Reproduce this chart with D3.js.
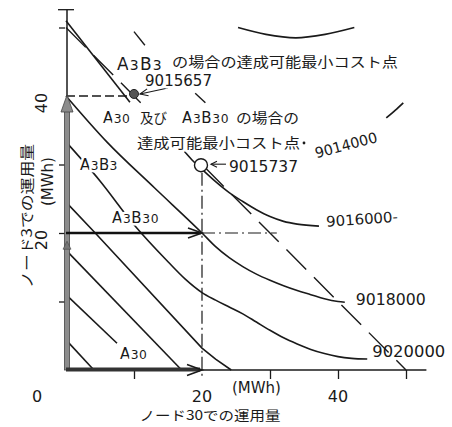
<!DOCTYPE html>
<html>
<head>
<meta charset="utf-8">
<script src="https://cdn.jsdelivr.net/npm/d3@7"></script>
<style>
  body { margin: 0; background: #fff; }
</style>
</head>
<body>
<div id="chart"></div>
<script>
// ---- data (MWh at node 30 = x, MWh at node 3 = y) ----
var xTicks = [10, 30, 40, 50];
var yTicks = [10, 20, 30, 50];
var xTickValues = [20, 40];
var xTickLabels = ["20", "40"];
var yTickValues = [20, 40];
var yTickLabels = ["20", "40"];

// cost contours (curved part right of x = 20)
var contourLabels = ["9016000", "9018000", "9020000"];
var c9016000 = [[17, 32.4], [18.5, 30.7], [20, 29.3], [22, 27.5], [24, 25.9], [26, 24.6], [28, 23.4], [30, 22.4], [32, 21.7], [34, 21.3], [37.2, 21]];
var c9018000 = [[0, 40], [6, 33.3], [13, 26.6], [20, 20], [22, 18], [24, 16.4], [26, 15.1], [28, 14], [30, 13.1], [32, 12.3], [34, 11.6], [36, 11], [38, 10.4], [40, 10], [41, 9.9]];
var c9020000 = [[0, 33.3], [5, 27.6], [10, 21.2], [15, 15.8], [17.5, 13.3], [20, 11.3], [22, 10.2], [24, 9.2], [26, 8.2], [28, 7], [30, 5.8], [32, 4.7], [34, 3.8], [36, 3], [38, 2.4], [40, 1.95], [42, 1.7], [44.3, 1.6]];
// 9014000 pieces in the upper right
var c9014000Top = [[25.3, 50], [29.4, 49], [33.8, 48.5], [38.1, 49], [42.4, 50]];
var c9014000Right = [[47.1, 36.8], [48.4, 37.9], [49.6, 39]];

// straight iso-cost lines in the lower left
var isoLines = [
  [[0, 4.4], [4.1, 0]],
  [[0, 11], [7.5, 3.9]],
  [[0, 17.5], [17, 0]],
  [[0, 24.5], [4.3, 20], [20, 3.2], [22, 1.6], [24.3, 0]]
];
// A3B3 case lines
var a3b3Line = [[0, 51], [9.4, 39.1]];
var a3b3Dashes = [[[10, 49.4], [11.6, 47.4]], [[19, 40.4], [20.5, 39]]];

// total demand line x + y = 50 (drawn in two visible pieces)
var demandLine = [[[0, 50], [11.5, 38.5]], [[20.3, 29.7], [50, 0]]];

// minimum cost points
var pointA3B3 = [10, 40.3];
var costA3B3 = "9015657";
var pointA30 = [19.85, 29.9];
var costA30 = "9015737";

// ---- chart ----
var w = 452, h = 427;
var ink = "#1a1a1a";
var numFont = "DejaVu Sans";
var jpFont = "'Noto Sans CJK JP'";

var x = d3.scaleLinear().domain([0, 50]).range([66, 406]);
var y = d3.scaleLinear().domain([0, 50]).range([370, 27.5]);

var svg = d3.select("#chart").append("svg")
    .attr("width", w)
    .attr("height", h)
    .style("background", "#fff");

var straight = d3.line().x(function(d) { return x(d[0]); }).y(function(d) { return y(d[1]); });
var smooth = d3.line().x(function(d) { return x(d[0]); }).y(function(d) { return y(d[1]); })
    .curve(d3.curveMonotoneX);

function drawPath(pts, gen, width, dash) {
  var p = svg.append("path")
      .attr("d", gen(pts))
      .attr("fill", "none")
      .attr("stroke", ink)
      .attr("stroke-width", width);
  if (dash) p.attr("stroke-dasharray", dash);
  return p;
}

// open arrow head: tip at (tx,ty), coming from direction (dx,dy)
function chevron(tx, ty, dx, dy, len, half, width) {
  var n = Math.sqrt(dx * dx + dy * dy); dx /= n; dy /= n;
  var bx = tx - dx * len, by = ty - dy * len;
  var px = -dy * half, py = dx * half;
  svg.append("path")
     .attr("d", "M" + (bx + px) + "," + (by + py) + "L" + tx + "," + ty + "L" + (bx - px) + "," + (by - py))
     .attr("fill", "none")
     .attr("stroke", ink)
     .attr("stroke-width", width);
}

// contour lines
isoLines.forEach(function(l) { drawPath(l, straight, 1.6); });
drawPath(c9018000, smooth, 1.6);
drawPath(c9020000, smooth, 1.6);
drawPath(c9016000, smooth, 1.6);
drawPath(c9014000Top, smooth, 1.7);
drawPath(c9014000Right, smooth, 1.7);
drawPath(a3b3Line, straight, 1.6);
a3b3Dashes.forEach(function(l) { drawPath(l, straight, 1.4); });
demandLine.forEach(function(l) { drawPath(l, straight, 1.4, "28,11"); });

// guide lines
drawPath([[0, 40], [9.5, 40]], straight, 1.3, "9,4");
drawPath([[20, 28.8], [20, -1.4]], straight, 1.2, "13,4,2,4");
drawPath([[20, 20], [31, 20]], straight, 1.2, "13,4,2,4");

// x axis (thin) + ticks
svg.append("line")
   .attr("x1", x(0)).attr("x2", x(53))
   .attr("y1", y(0)).attr("y2", y(0))
   .attr("stroke", ink).attr("stroke-width", 1.6);
var xAxis = svg.append("g")
   .attr("transform", "translate(0," + y(0) + ")")
   .call(d3.axisBottom(x).tickValues(xTicks).tickSize(9).tickFormat(""));
xAxis.select(".domain").remove();
xAxis.selectAll("line").attr("stroke", ink).attr("stroke-width", 1.3);

// y axis (thin) + ticks
svg.append("line")
   .attr("x1", x(0) + 1).attr("x2", x(0) + 1)
   .attr("y1", y(40)).attr("y2", y(52.6))
   .attr("stroke", ink).attr("stroke-width", 1.5);
var yAxis = svg.append("g")
   .attr("transform", "translate(" + (x(0) - 1) + ",0)")
   .call(d3.axisLeft(y).tickValues(yTicks).tickSize(6).tickFormat(""));
yAxis.select(".domain").remove();
yAxis.selectAll("line").attr("stroke", ink).attr("stroke-width", 1.3);
svg.append("line")
   .attr("x1", x(0) - 8).attr("x2", x(0) + 8)
   .attr("y1", y(52.6)).attr("y2", y(52.6))
   .attr("stroke", ink).attr("stroke-width", 1.3);

// thick gray arrow up the y axis (0 -> 40)
svg.append("rect")
   .attr("x", x(0) - 1.5).attr("y", y(40) + 14)
   .attr("width", 5).attr("height", y(0) - y(40) - 14)
   .attr("fill", "#8c8c8c").attr("stroke", "#444").attr("stroke-width", 0.8);
svg.append("path")
   .attr("d", "M" + (x(0) - 5) + "," + (y(40) + 16) + "L" + (x(0) + 1) + "," + (y(40) - 1) + "L" + (x(0) + 7) + "," + (y(40) + 16) + "Z")
   .attr("fill", "#8c8c8c").attr("stroke", "#444").attr("stroke-width", 0.8);
// small head at the end of the A3B30 range
svg.append("path")
   .attr("d", "M" + (x(0) - 3) + "," + (y(18.8) + 8) + "L" + (x(0) + 1) + "," + y(18.8) + "L" + (x(0) + 5) + "," + (y(18.8) + 8) + "Z")
   .attr("fill", "#777").attr("stroke", "#444").attr("stroke-width", 0.6);

// thick arrow along the x axis (0 -> 20)
svg.append("line")
   .attr("x1", x(0)).attr("x2", x(20) - 2)
   .attr("y1", y(0) - 0.5).attr("y2", y(0) - 0.5)
   .attr("stroke", "#333").attr("stroke-width", 4);
chevron(x(20), y(0), 1, 0, 15, 5.5, 1.6);

// black arrow at y = 20 (0 -> 20)
svg.append("line")
   .attr("x1", x(0)).attr("x2", x(20) - 1)
   .attr("y1", y(20)).attr("y2", y(20))
   .attr("stroke", "#111").attr("stroke-width", 2.6);
chevron(x(20), y(20), 1, 0, 14, 5, 1.6);

// minimum cost points
svg.append("circle")
   .attr("cx", x(pointA3B3[0])).attr("cy", y(pointA3B3[1])).attr("r", 4.5)
   .attr("fill", "#555").attr("stroke", "#222").attr("stroke-width", 1);
svg.append("line")
   .attr("x1", x(pointA3B3[0]) + 34).attr("y1", y(pointA3B3[1]) - 6)
   .attr("x2", x(pointA3B3[0]) + 6).attr("y2", y(pointA3B3[1]))
   .attr("stroke", ink).attr("stroke-width", 1.1);
chevron(x(pointA3B3[0]) + 6, y(pointA3B3[1]), -28, 6, 8, 3.5, 1.1);

svg.append("circle")
   .attr("cx", x(pointA30[0])).attr("cy", y(pointA30[1])).attr("r", 6.5)
   .attr("fill", "#fff").attr("stroke", ink).attr("stroke-width", 1.4);
svg.append("line")
   .attr("x1", x(pointA30[0]) + 25).attr("y1", y(pointA30[1]) - 1)
   .attr("x2", x(pointA30[0]) + 10).attr("y2", y(pointA30[1]) - 1)
   .attr("stroke", ink).attr("stroke-width", 1.1);
chevron(x(pointA30[0]) + 10, y(pointA30[1]) - 1, -1, 0, 6, 3, 1.1);

// ---- text ----
function halo(t) {
  return t.style("paint-order", "stroke").attr("stroke", "#fff")
          .attr("stroke-width", 5).attr("stroke-linejoin", "round");
}

function label(str, cx, cy, fs, opts) {
  opts = opts || {};
  var font = opts.jp ? jpFont : numFont;
  var g = svg.append("g")
     .attr("transform", "translate(" + cx + "," + cy + ")" + (opts.rotate ? " rotate(" + opts.rotate + ")" : ""));
  var t = g.append("text")
     .attr("x", 0)
     .attr("y", fs * (opts.jp ? 0.38 : 0.36))
     .attr("text-anchor", opts.anchor || "middle")
     .attr("font-family", font)
     .attr("font-size", fs)
     .attr("fill", ink)
     .text(str);
  if (opts.len) t.attr("textLength", opts.len).attr("lengthAdjust", "spacingAndGlyphs");
  if (opts.halo) halo(t);
  return t;
}

// "A3B30" style labels: capital letters with smaller digits on the same baseline
function caseLabel(parts, left, cy, fs, ls) {
  var t = svg.append("text")
     .attr("x", left)
     .attr("y", cy + fs * 0.36)
     .attr("font-family", numFont)
     .attr("fill", ink)
     .attr("letter-spacing", ls);
  parts.forEach(function(p) {
    t.append("tspan")
     .attr("font-size", /[0-9]/.test(p) ? fs * 0.82 : fs)
     .text(p);
  });
  halo(t);
  return t;
}

// axis tick labels
xTickValues.forEach(function(v, i) {
  label(xTickLabels[i], x(v), y(0) + 26, 16);
});
label("0", x(0) - 29, y(0) + 26, 16);
label("(MWh)", x(28) , y(0) + 18, 15);
yTickValues.forEach(function(v, i) {
  label(yTickLabels[i], x(0) - 25, y(v) + 7, 16, { rotate: -90 });
});
label("(MWh)", x(0) - 18, y(27.5), 15, { rotate: -90 });

// axis titles
label("ノード30での運用量", x(0) + 144, y(0) + 45, 13, { jp: true, len: 141 });
label("ノード3での運用量", x(0) - 39, y(22.5), 14, { jp: true, rotate: -90, len: 144 });

// region labels
caseLabel(["A", "3", "B", "3"], 80, 165, 15, 0.4);
caseLabel(["A", "3", "B", "30"], 112, 218, 15, 0.6);
caseLabel(["A", "30"], 120, 354, 15, 0.5);

// notes about minimum cost points
caseLabel(["A", "3", "B", "3"], 117, 64, 17, 1.2);
label("の場合の達成可能最小コスト点", 172, 62, 14, { jp: true, anchor: "start", len: 226, halo: true });
label(costA3B3, 145, 81, 15, { anchor: "start", len: 67, halo: true });

caseLabel(["A", "30"], 103, 118, 15, 0.5);
label("及び", 140, 118, 14, { jp: true, anchor: "start", len: 27, halo: true });
caseLabel(["A", "3", "B", "30"], 182, 118, 15, 0.6);
label("の場合の", 236, 118, 14, { jp: true, anchor: "start", len: 63, halo: true });
label("達成可能最小コスト点", 137, 143, 14, { jp: true, anchor: "start", len: 163, halo: true });
svg.append("circle").attr("cx", 304).attr("cy", 143).attr("r", 1.4).attr("fill", ink);
label(costA30, 229, 167, 15, { anchor: "start", len: 69, halo: true });

// contour labels
label("9014000", 346, 145, 14.5, { rotate: -15, len: 64 });
label(contourLabels[0] + "-", x(c9016000[c9016000.length - 1][0]) + 43, 219, 14.5, { rotate: -4, len: 72 });
label(contourLabels[1], x(c9018000[c9018000.length - 1][0]) + 11, 300, 15, { anchor: "start", len: 70 });
label(contourLabels[2], x(c9020000[c9020000.length - 1][0]) + 5, 352, 15, { anchor: "start", len: 73 });
</script>
</body>
</html>
